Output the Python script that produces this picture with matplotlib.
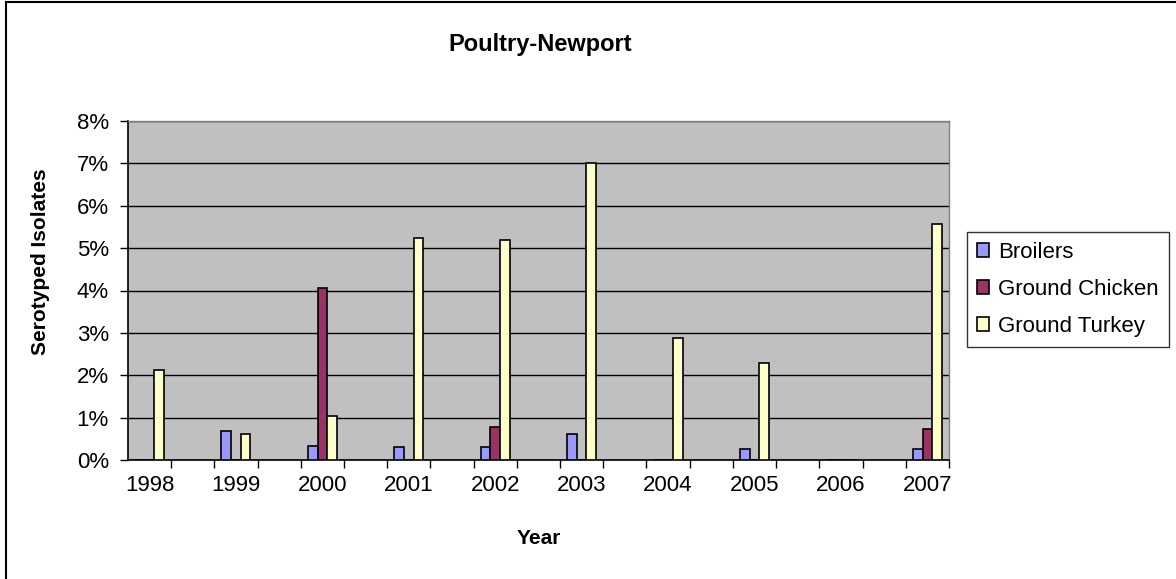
import matplotlib
matplotlib.use("Agg")
import matplotlib.pyplot as plt
import matplotlib.patches as mpatches
import numpy as np
from matplotlib.ticker import FixedLocator, PercentFormatter

plt.rcParams['font.family'] = ['Liberation Sans', 'DejaVu Sans']

years = ['1998', '1999', '2000', '2001', '2002', '2003', '2004', '2005', '2006', '2007']
broilers = [0, 0.69, 0.34, 0.30, 0.30, 0.61, 0, 0.26, 0, 0.26]
ground_chicken = [0, 0, 4.05, 0, 0.78, 0, 0, 0, 0, 0.74]
ground_turkey = [2.12, 0.61, 1.04, 5.23, 5.18, 7.01, 2.87, 2.30, 0, 5.58]

series = [
    ("Broilers", broilers, "#9999FF"),
    ("Ground Chicken", ground_chicken, "#993366"),
    ("Ground Turkey", ground_turkey, "#FFFFCC"),
]

W, H = 1176, 579
fig = plt.figure(figsize=(W / 100, H / 100), dpi=100)
ax = fig.add_axes([128.3 / W, 1 - 460 / H, (949 - 128.3) / W, (460 - 121) / H])
ax.set_facecolor("#C0C0C0")

x = np.arange(len(years))
bw = 0.112
for i, (name, vals, color) in enumerate(series):
    ax.bar(x + (i - 1) * bw, vals, width=bw, color=color, edgecolor="black",
           linewidth=1.2, label=name, zorder=3)

ax.set_xlim(-0.245, len(years) - 1 + 0.25)
ax.set_ylim(0, 8)
ax.set_yticks(np.arange(0, 9, 1))
ax.yaxis.set_major_formatter(PercentFormatter(decimals=0))
ax.yaxis.grid(True, color="black", linewidth=1, zorder=1)
ax.set_axisbelow(True)

ax.set_xticks(x)
ax.set_xticklabels(years)
ax.xaxis.set_minor_locator(FixedLocator(np.concatenate([x - 0.25, x + 0.25])))
ax.tick_params(axis='x', which='major', length=0, pad=11, labelsize=16)
ax.tick_params(axis='x', which='minor', length=6, width=1, direction='out')
ax.tick_params(axis='y', length=6, width=1, direction='out', pad=8, labelsize=16)

for s in ['top', 'right']:
    ax.spines[s].set_color("#808080")
    ax.spines[s].set_linewidth(1)
for s in ['left', 'bottom']:
    ax.spines[s].set_color("black")
    ax.spines[s].set_linewidth(1.2)

fig.text(540 / W, 1 - 44 / H, "Poultry-Newport", ha='center', va='center',
         fontsize=17, fontweight='bold')
fig.text(40 / W, 1 - 262 / H, "Serotyped Isolates", ha='center', va='center',
         rotation=90, fontsize=15, fontweight='bold')
fig.text(539 / W, 1 - 538 / H, "Year", ha='center', va='center',
         fontsize=15, fontweight='bold')

leg = ax.legend(loc='upper left', bbox_to_anchor=(967 / W, 1 - 232 / H),
                bbox_transform=fig.transFigure, fontsize=16, frameon=True,
                fancybox=False, shadow=False, handlelength=0.55, handleheight=0.55,
                handletextpad=0.4, labelspacing=0.72, borderpad=0.45,
                borderaxespad=0)
leg.get_frame().set_edgecolor("black")
leg.get_frame().set_linewidth(1)

fig.add_artist(mpatches.Rectangle((6 / W, -0.05), 1.2, 1 - 2 / H + 0.05,
                                  transform=fig.transFigure, fill=False,
                                  edgecolor="black", linewidth=1.5))

fig.savefig("out.png", dpi=100)
